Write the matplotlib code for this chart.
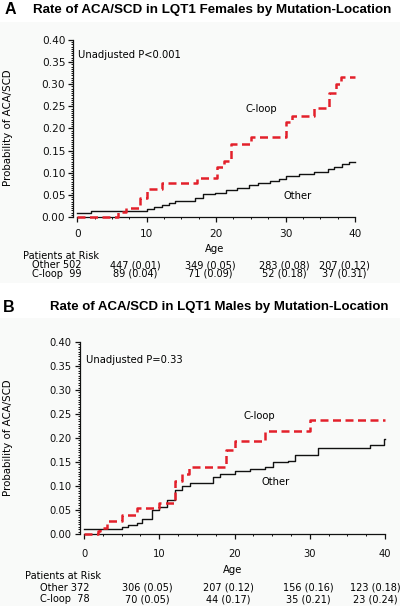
import matplotlib
matplotlib.use("Agg")
import matplotlib.pyplot as plt
from matplotlib.patches import Rectangle
from matplotlib.ticker import MultipleLocator, FormatStrFormatter

# ---------------- data ----------------
# Panel A (females)
a_cloop_t = [0, 5.9, 7.1, 9.0, 10.0, 12.2, 17.3, 20.1, 21.1, 22.1, 25.0, 30.0, 31.0, 34.1, 36.2, 37.2, 38.0, 40]
a_cloop_p = [0.0, 0.011, 0.021, 0.043, 0.063, 0.076, 0.088, 0.112, 0.127, 0.165, 0.181, 0.214, 0.229, 0.247, 0.281, 0.300, 0.316, 0.316]
a_other_t = [0, 2.0, 10.0, 11.0, 12.2, 13.2, 14.1, 17.0, 18.1, 19.8, 21.4, 23.0, 24.7, 26.1, 27.8, 29.0, 30.0, 31.9, 34.1, 36.1, 37.0, 38.2, 39.1, 40]
a_other_p = [0.008, 0.014, 0.017, 0.022, 0.026, 0.032, 0.037, 0.042, 0.051, 0.055, 0.060, 0.065, 0.072, 0.076, 0.081, 0.087, 0.093, 0.097, 0.102, 0.108, 0.114, 0.119, 0.125, 0.125]

# Panel B (males)
b_cloop_t = [0, 1.8, 2.1, 3.0, 5.0, 7.0, 10.0, 12.1, 13.0, 13.9, 18.9, 20.1, 24.0, 30.0, 40]
b_cloop_p = [0.0, 0.006, 0.012, 0.027, 0.040, 0.054, 0.065, 0.111, 0.126, 0.140, 0.176, 0.194, 0.215, 0.237, 0.237]
b_other_t = [0, 5.0, 5.9, 7.0, 7.7, 9.0, 9.9, 11.0, 12.1, 13.0, 14.1, 17.1, 18.1, 20.1, 22.0, 24.0, 25.1, 27.1, 28.0, 31.1, 38.0, 39.9, 40]
b_other_p = [0.010, 0.014, 0.018, 0.023, 0.032, 0.050, 0.056, 0.071, 0.092, 0.100, 0.106, 0.119, 0.126, 0.131, 0.135, 0.140, 0.149, 0.153, 0.165, 0.179, 0.185, 0.197, 0.197]

x_ticks = [0, 10, 20, 30, 40]
y_ticks = [0.00, 0.05, 0.10, 0.15, 0.20, 0.25, 0.30, 0.35, 0.40]

a_title = "Rate of ACA/SCD in LQT1 Females by Mutation-Location"
b_title = "Rate of ACA/SCD in LQT1 Males by Mutation-Location"
a_pval = "Unadjusted P<0.001"
b_pval = "Unadjusted P=0.33"

a_risk_other = ["447 (0.01)", "349 (0.05)", "283 (0.08)", "207 (0.12)"]
a_risk_cloop = ["89 (0.04)", "71 (0.09)", "52 (0.18)", "37 (0.31)"]
a_risk_n = ["Other 502", "C-loop  99"]
b_risk_other = ["306 (0.05)", "207 (0.12)", "156 (0.16)", "123 (0.18)"]
b_risk_cloop = ["70 (0.05)", "44 (0.17)", "35 (0.21)", "23 (0.24)"]
b_risk_n = ["Other 372", "C-loop  78"]

# ---------------- figure ----------------
W, H = 400, 606
fig = plt.figure(figsize=(W / 100, H / 100), dpi=100)
fig.patch.set_facecolor("white")

def fx(px):
    return px / W

def fy(py):
    return 1 - py / H

# faint tinted panel backgrounds
fig.patches.append(Rectangle((0, fy(283)), 1, fy(22) - fy(283), transform=fig.transFigure,
                             facecolor="#f9faf9", edgecolor="none", zorder=-10))
fig.patches.append(Rectangle((0, 0), 1, fy(318), transform=fig.transFigure,
                             facecolor="#f9faf9", edgecolor="none", zorder=-10))

RED = "#e3202b"
AFONT = "DejaVu Sans"
TFONT = "Liberation Sans"
XOFF = 0.6  # gap between the y spine and age 0


def panel(rect, ct, cp, ot, op, tick_fs):
    ax = fig.add_axes(rect)
    ax.set_facecolor("none")
    ax.step(ot, op, where="post", color="#111111", lw=1.0, clip_on=False, zorder=3)
    ax.step(ct, cp, where="post", color=RED, lw=1.8, ls=(0, (3.2, 1.8)), clip_on=False, zorder=4)
    ax.set_xlim(-XOFF, 40)
    ax.set_ylim(0, 0.40)
    for s in ("top", "right"):
        ax.spines[s].set_visible(False)
    for s in ("left", "bottom"):
        ax.spines[s].set_linewidth(0.9)
        ax.spines[s].set_color("#111111")
    ax.spines["bottom"].set_bounds(0, 40)
    ax.set_xticks(x_ticks)
    ax.set_yticks(y_ticks)
    ax.xaxis.set_minor_locator(MultipleLocator(2.5))
    ax.yaxis.set_minor_locator(MultipleLocator(0.005))
    ax.yaxis.set_major_formatter(FormatStrFormatter("%.2f"))
    ax.tick_params(which="major", length=3.5, width=0.9, labelsize=tick_fs, pad=2, colors="#111111")
    ax.tick_params(which="minor", length=1.6, width=0.7, colors="#111111")
    for lab in ax.get_xticklabels() + ax.get_yticklabels():
        lab.set_family(AFONT)
    return ax


# Panel A axes (pixels: spine x 73, age0 x 77, age40 x 355, y 40-217)
axA = panel([fx(73), fy(217), fx(355 - 73), (217 - 40) / H],
            a_cloop_t, a_cloop_p, a_other_t, a_other_p, 7.6)
axA.tick_params(axis="x", pad=5)
# Panel B axes (pixels: spine x 79.5, age0 x 84, age40 x 385, y 342-534)
axB = panel([fx(79.5), fy(534), fx(385 - 79.5), (534 - 342) / H],
            b_cloop_t, b_cloop_p, b_other_t, b_other_p, 7.2)
axB.tick_params(axis="x", pad=7)

fs = 7.2
# panel letters and titles
fig.text(fx(5), fy(10), "A", fontsize=11.5, fontweight="bold", family=TFONT, va="center", ha="left")
fig.text(fx(33), fy(10), a_title, fontsize=9.6, fontweight="bold", family=TFONT, va="center", ha="left")
fig.text(fx(3), fy(307), "B", fontsize=11.5, fontweight="bold", family=TFONT, va="center", ha="left")
fig.text(fx(50), fy(307), b_title, fontsize=9.5, fontweight="bold", family=TFONT, va="center", ha="left")

# y labels
fig.text(fx(8), fy(128), "Probability of ACA/SCD", rotation=90, fontsize=7.4, family=AFONT, va="center", ha="center")
fig.text(fx(8), fy(438), "Probability of ACA/SCD", rotation=90, fontsize=7.4, family=AFONT, va="center", ha="center")

# annotations
fig.text(fx(78), fy(55), a_pval, fontsize=fs, family=AFONT, va="center", ha="left")
fig.text(fx(245), fy(109), "C-loop", fontsize=fs, family=AFONT, va="center", ha="left")
fig.text(fx(283), fy(196), "Other", fontsize=fs, family=AFONT, va="center", ha="left")
fig.text(fx(86), fy(360), b_pval, fontsize=fs, family=AFONT, va="center", ha="left")
fig.text(fx(243), fy(416), "C-loop", fontsize=fs, family=AFONT, va="center", ha="left")
fig.text(fx(262), fy(482), "Other", fontsize=fs, family=AFONT, va="center", ha="left")

# x labels
fig.text(fx(215), fy(249), "Age", fontsize=fs, family=AFONT, va="center", ha="center")
fig.text(fx(233), fy(570), "Age", fontsize=fs, family=AFONT, va="center", ha="center")

# risk tables
rfs = 7.0
fig.text(fx(23), fy(255.5), "Patients at Risk", fontsize=rfs, family=AFONT, va="center", ha="left")
fig.text(fx(82), fy(265), a_risk_n[0], fontsize=rfs, family=AFONT, va="center", ha="right")
fig.text(fx(82), fy(274), a_risk_n[1], fontsize=rfs, family=AFONT, va="center", ha="right")
a_cols = [135, 210, 284, 344]
for cx, o, c in zip(a_cols, a_risk_other, a_risk_cloop):
    fig.text(fx(cx), fy(265), o, fontsize=rfs, family=AFONT, va="center", ha="center")
    fig.text(fx(cx), fy(274), c, fontsize=rfs, family=AFONT, va="center", ha="center")

fig.text(fx(25), fy(576), "Patients at Risk", fontsize=rfs, family=AFONT, va="center", ha="left")
fig.text(fx(90), fy(588), b_risk_n[0], fontsize=rfs, family=AFONT, va="center", ha="right")
fig.text(fx(90), fy(599), b_risk_n[1], fontsize=rfs, family=AFONT, va="center", ha="right")
b_cols = [147, 228, 308, 375]
for cx, o, c in zip(b_cols, b_risk_other, b_risk_cloop):
    fig.text(fx(cx), fy(588), o, fontsize=rfs, family=AFONT, va="center", ha="center")
    fig.text(fx(cx), fy(599), c, fontsize=rfs, family=AFONT, va="center", ha="center")

fig.savefig("out.png", dpi=100, facecolor=fig.get_facecolor())
